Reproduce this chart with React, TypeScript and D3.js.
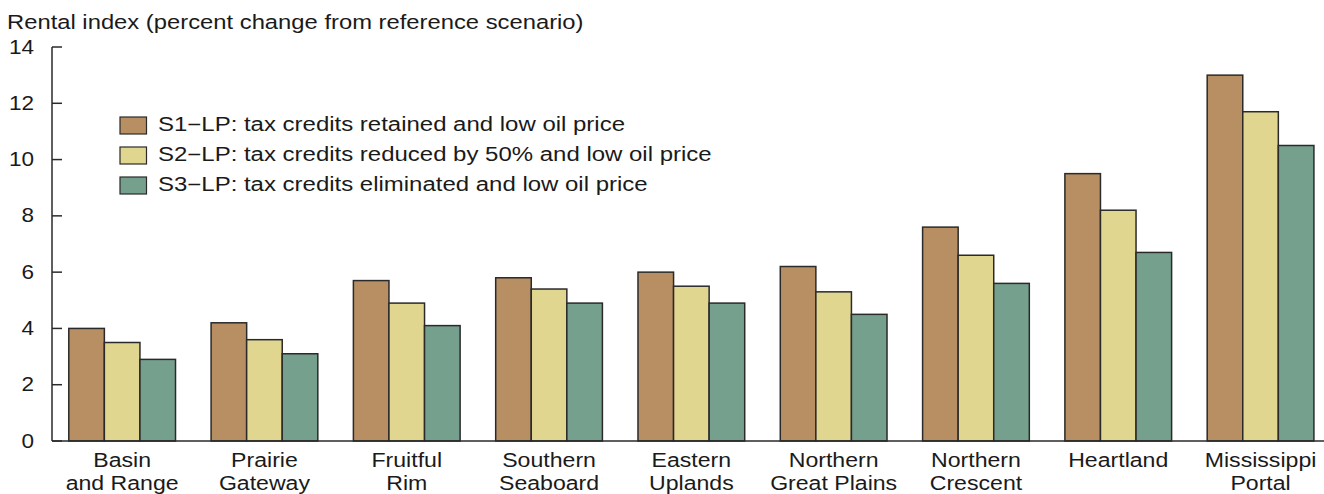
import React from "react";
import * as d3 from "d3";

const WIDTH = 1324;
const HEIGHT = 494;
const MARGIN = { top: 47, right: 0, bottom: 53, left: 52 };
const FONT = "'Liberation Sans', Arial, Helvetica, sans-serif";

const regions = [
  ["Basin", "and Range"],
  ["Prairie", "Gateway"],
  ["Fruitful", "Rim"],
  ["Southern", "Seaboard"],
  ["Eastern", "Uplands"],
  ["Northern", "Great Plains"],
  ["Northern", "Crescent"],
  ["Heartland"],
  ["Mississippi", "Portal"],
];

const seriesNames = [
  "S1\u2212LP: tax credits retained and low oil price",
  "S2\u2212LP: tax credits reduced by 50% and low oil price",
  "S3\u2212LP: tax credits eliminated and low oil price",
];
const seriesColors = ["#b78f63", "#e0d690", "#76a08e"];

const s1 = [4.0, 4.2, 5.7, 5.8, 6.0, 6.2, 7.6, 9.5, 13.0];
const s2 = [3.5, 3.6, 4.9, 5.4, 5.5, 5.3, 6.6, 8.2, 11.7];
const s3 = [2.9, 3.1, 4.1, 4.9, 4.9, 4.5, 5.6, 6.7, 10.5];
const series = [s1, s2, s3];

const yTicks = [0, 2, 4, 6, 8, 10, 12, 14];

// the original type is a bit wider than Liberation Sans, so stretch it
const Label = ({ x, y, size, sx, anchor = "start", children }: any) => (
  <text
    transform={`translate(${x},${y}) scale(${sx},1)`}
    fontSize={size}
    textAnchor={anchor}
  >
    {children}
  </text>
);

const App = () => {
  const baseY = HEIGHT - MARGIN.bottom;
  const keys = regions.map((r) => r.join(" "));

  const xScale = d3
    .scaleBand()
    .domain(keys)
    .range([MARGIN.left - 1, MARGIN.left - 1 + 9 * 142.3])
    .paddingInner(0.25)
    .paddingOuter(0.125);

  const subScale = d3
    .scaleBand()
    .domain(["0", "1", "2"])
    .range([0, xScale.bandwidth()]);

  const yScale = d3.scaleLinear().domain([0, 14]).range([baseY, MARGIN.top]);

  const bars = keys.flatMap((k, i) =>
    series.map((s, j) => {
      const x = (xScale(k) ?? 0) + (subScale(String(j)) ?? 0);
      return (
        <rect
          key={k + j}
          x={x}
          y={yScale(s[i])}
          width={subScale.bandwidth()}
          height={baseY - yScale(s[i])}
          fill={seriesColors[j]}
          stroke="#2a2a2a"
          strokeWidth={1.5}
        />
      );
    })
  );

  const xLabels = regions.map((r, i) => {
    const cx = (xScale(keys[i]) ?? 0) + xScale.bandwidth() / 2;
    return r.map((line, li) => (
      <Label
        key={i + "-" + li}
        x={cx}
        y={baseY + 26 + li * 23}
        size={21}
        sx={1.1}
        anchor="middle"
      >
        {line}
      </Label>
    ));
  });

  const yAxis = yTicks.map((t) => (
    <g key={t}>
      <line
        x1={MARGIN.left}
        x2={MARGIN.left + 10}
        y1={yScale(t)}
        y2={yScale(t)}
        stroke="#2a2a2a"
        strokeWidth={1.5}
      />
      <Label x={34} y={yScale(t) + 6.5} size={20.5} sx={1.1} anchor="end">
        {t}
      </Label>
    </g>
  ));

  return (
    <svg
      width={WIDTH}
      height={HEIGHT}
      style={{ position: "absolute", left: 0, top: 0, background: "#fff" }}
      fontFamily={FONT}
      fill="#1a1a1a"
    >
      <Label x={7} y={29} size={19.5} sx={1.22}>
        Rental index (percent change from reference scenario)
      </Label>
      {bars}
      <line
        x1={MARGIN.left}
        x2={MARGIN.left}
        y1={yScale(14)}
        y2={baseY}
        stroke="#2a2a2a"
        strokeWidth={1.5}
      />
      <line
        x1={MARGIN.left}
        x2={WIDTH}
        y1={baseY}
        y2={baseY}
        stroke="#2a2a2a"
        strokeWidth={1.5}
      />
      {yAxis}
      {xLabels}
      {seriesNames.map((name, i) => (
        <g key={i} transform={`translate(120,${117 + i * 30})`}>
          <rect
            width={26.5}
            height={17}
            fill={seriesColors[i]}
            stroke="#2a2a2a"
            strokeWidth={1.2}
          />
          <Label x={38} y={13.5} size={19.5} sx={1.23}>
            {name}
          </Label>
        </g>
      ))}
    </svg>
  );
};

export default App;
